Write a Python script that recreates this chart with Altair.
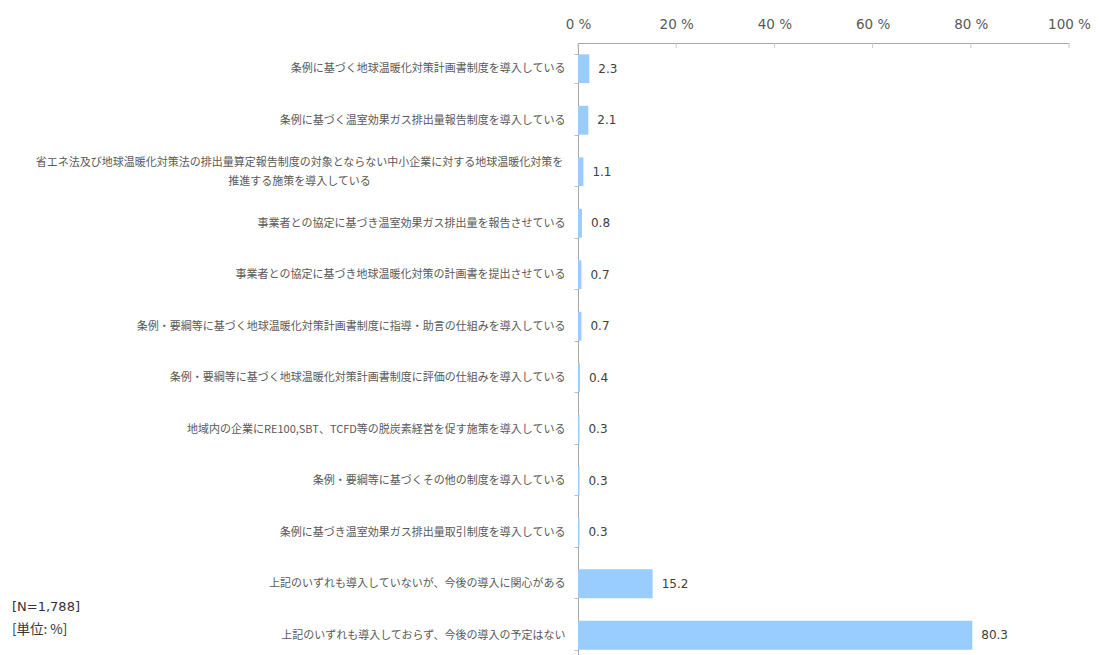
import altair as alt
import pandas as pd

categories = [
    "条例に基づく地球温暖化対策計画書制度を導入している",
    "条例に基づく温室効果ガス排出量報告制度を導入している",
    "省エネ法及び地球温暖化対策法の排出量算定報告制度の対象とならない中小企業に対する地球温暖化対策を\n推進する施策を導入している",
    "事業者との協定に基づき温室効果ガス排出量を報告させている",
    "事業者との協定に基づき地球温暖化対策の計画書を提出させている",
    "条例・要綱等に基づく地球温暖化対策計画書制度に指導・助言の仕組みを導入している",
    "条例・要綱等に基づく地球温暖化対策計画書制度に評価の仕組みを導入している",
    "地域内の企業にRE100,SBT、TCFD等の脱炭素経営を促す施策を導入している",
    "条例・要綱等に基づくその他の制度を導入している",
    "条例に基づき温室効果ガス排出量取引制度を導入している",
    "上記のいずれも導入していないが、今後の導入に関心がある",
    "上記のいずれも導入しておらず、今後の導入の予定はない",
]
values = [2.3, 2.1, 1.1, 0.8, 0.7, 0.7, 0.4, 0.3, 0.3, 0.3, 15.2, 80.3]
x_ticks = [0, 20, 40, 60, 80, 100]
note_n = ["[N=1,788]"]
note_unit = ["[単位: %]"]

df = pd.DataFrame({"cat": categories, "value": values})
df["label"] = df["value"].map(lambda v: f"{v:.1f}")

JP = "Noto Sans CJK JP"
NUM = "DejaVu Sans"
WRAP_TEST = "indexof(datum.label, '\\n') >= 0"

y_enc = alt.Y(
    "cat:N",
    sort=categories,
    scale=alt.Scale(paddingInner=0.44, paddingOuter=0.22),
    axis=alt.Axis(
        title=None,
        ticks=True,
        tickBand="extent",
        tickSize=4,
        tickColor="#bfbfbf",
        domainColor="#a6a6a6",
        labelExpr="split(datum.label, '\\n')",
        labelFont=JP,
        labelFontSize=11,
        labelColor="#595959",
        labelLineHeight=19,
        labelLimit=700,
        labelAlign={"condition": {"test": WRAP_TEST, "value": "center"}, "value": "right"},
        labelPadding={"condition": {"test": WRAP_TEST, "value": 275}, "value": 9},
        labelOffset={"condition": {"test": WRAP_TEST, "value": -9}, "value": 0},
    ),
)

x_enc = alt.X(
    "value:Q",
    scale=alt.Scale(domain=[0, 100], nice=False),
    axis=alt.Axis(
        orient="top",
        title=None,
        values=x_ticks,
        ticks=False,
        grid=False,
        domainColor="#a6a6a6",
        labelExpr="datum.value + ' %'",
        labelFlush=False,
        labelFont=NUM,
        labelFontSize=13.5,
        labelColor="#595959",
        labelPadding=12,
    ),
)

base = alt.Chart(df)

bars = base.mark_bar(color="#99ccff").encode(x=x_enc, y=y_enc)

texts = base.mark_text(align="left", baseline="middle", dx=9, font=NUM, fontSize=12, color="#404040").encode(
    x=alt.X("value:Q"), y=alt.Y("cat:N", sort=categories), text="label:N"
)

xtick_df = pd.DataFrame({"t": x_ticks})
xticks = alt.Chart(xtick_df).mark_rule(color="#c8c8c8").encode(
    x=alt.X("t:Q"),
    y=alt.value(0),
    y2=alt.value(5),
)

n_text = alt.Chart(pd.DataFrame({"t": note_n})).mark_text(
    align="left", baseline="middle", font=NUM, fontSize=13, color="#333333"
).encode(text="t:N", x=alt.value(-566), y=alt.value(564))

unit_text = alt.Chart(pd.DataFrame({"t": note_unit})).mark_text(
    align="left", baseline="middle", font=JP, fontSize=13.5, color="#333333"
).encode(text="t:N", x=alt.value(-566), y=alt.value(587))

chart = (
    alt.layer(bars, texts, xticks, n_text, unit_text)
    .properties(
        width=491,
        height=618,
        autosize="none",
        padding={"left": 570, "top": 35, "right": 22, "bottom": 0},
        background="white",
    )
    .configure_view(stroke=None)
)

chart.save("out.html", embed_options={"renderer": "svg", "actions": False})
